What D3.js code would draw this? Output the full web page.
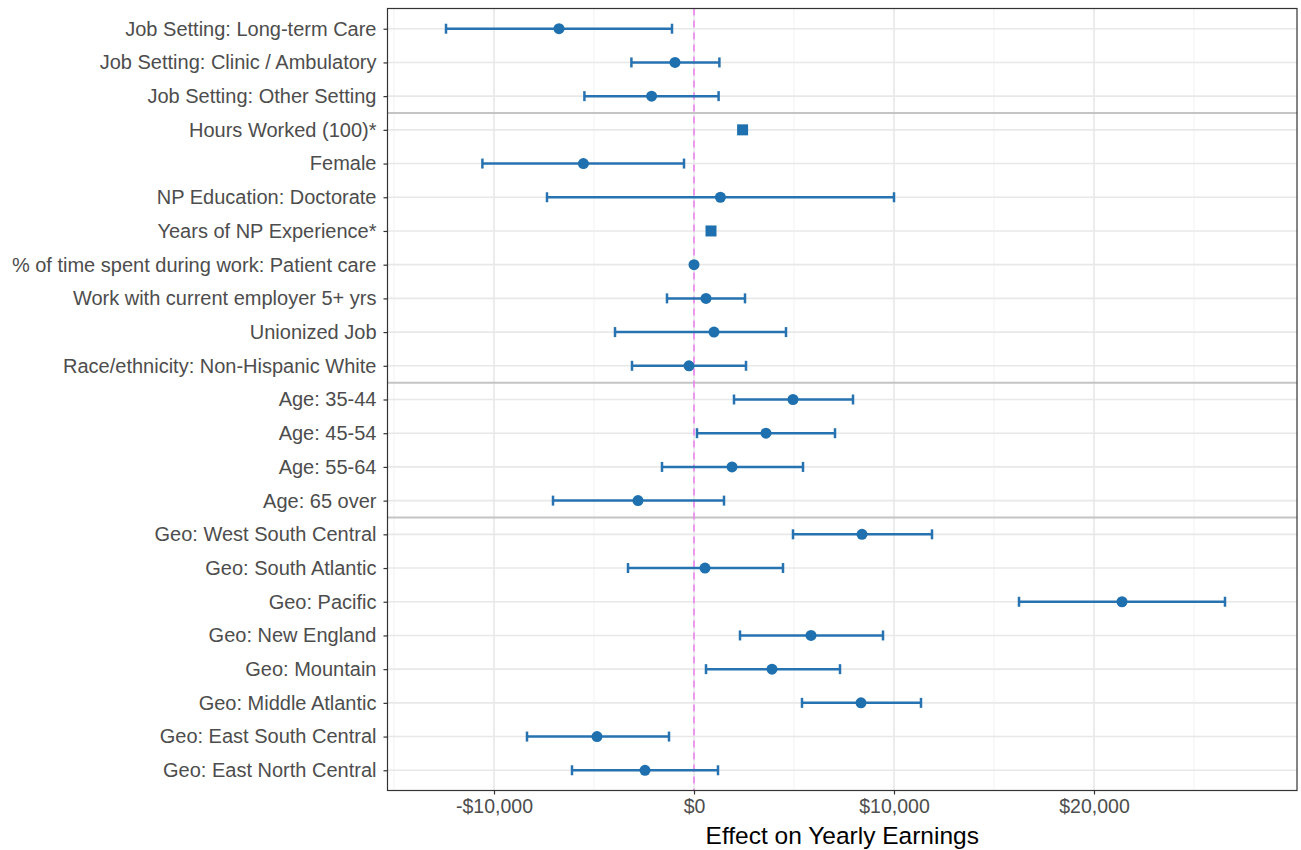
<!DOCTYPE html>
<html>
<head>
<meta charset="utf-8">
<script src="https://cdn.jsdelivr.net/npm/d3@7"></script>
<style>
  body { margin: 0; background: #fff; }
  text { font-family: "Liberation Sans", Arial, Helvetica, sans-serif; }
</style>
</head>
<body>
<div id="chart"></div>
<script>
// 数据
const terms = [
  "Job Setting: Long-term Care",
  "Job Setting: Clinic / Ambulatory",
  "Job Setting: Other Setting",
  "Hours Worked (100)*",
  "Female",
  "NP Education: Doctorate",
  "Years of NP Experience*",
  "% of time spent during work: Patient care",
  "Work with current employer 5+ yrs",
  "Unionized Job",
  "Race/ethnicity: Non-Hispanic White",
  "Age: 35-44",
  "Age: 45-54",
  "Age: 55-64",
  "Age: 65 over",
  "Geo: West South Central",
  "Geo: South Atlantic",
  "Geo: Pacific",
  "Geo: New England",
  "Geo: Mountain",
  "Geo: Middle Atlantic",
  "Geo: East South Central",
  "Geo: East North Central"
];
const estimate = [-6750, -950, -2120, 2430, -5530, 1320, 850, 0, 600, 1000, -250,
  4950, 3600, 1900, -2800, 8400, 550, 21400, 5850, 3900, 8350, -4850, -2450];
const ciLow = [-12400, -3130, -5480, null, -10580, -7350, null, null, -1350, -3950, -3100,
  2000, 150, -1600, -7050, 4950, -3300, 16250, 2300, 600, 5400, -8350, -6100];
const ciHigh = [-1100, 1270, 1230, null, -500, 10000, null, null, 2550, 4600, 2600,
  7950, 7050, 5450, 1500, 11900, 4450, 26550, 9450, 7300, 11350, -1250, 1200];
// 方形点 = 连续变量
const isSquare = [false, false, false, true, false, false, true, false, false, false, false,
  false, false, false, false, false, false, false, false, false, false, false, false];
// 分组分隔线（在这些行之后）
const groupBreaks = [2, 10, 14];
const xTicks = [-10000, 0, 10000, 20000];
const xMinor = [-15000, -5000, 5000, 15000, 25000];

const width = 1301, height = 850;
const margin = { left: 387.5, right: 4, top: 8.5, bottom: 59.5 };
const pw = width - margin.left - margin.right;
const ph = height - margin.top - margin.bottom;

const svg = d3.select("#chart").append("svg")
  .attr("width", width).attr("height", height);

const x = d3.scaleLinear().domain([-15325, 30150]).range([0, pw]);
const y = d3.scalePoint().domain(terms).range([0, ph]).padding(0.6);
const step = y.step();

const g = svg.append("g").attr("transform", `translate(${margin.left},${margin.top})`);

// 网格
g.selectAll(".minor").data(xMinor).enter().append("line")
  .attr("x1", d => x(d)).attr("x2", d => x(d))
  .attr("y1", 0).attr("y2", ph)
  .attr("stroke", "#f2f2f2").attr("stroke-width", 1);
g.selectAll(".major").data(xTicks).enter().append("line")
  .attr("x1", d => x(d)).attr("x2", d => x(d))
  .attr("y1", 0).attr("y2", ph)
  .attr("stroke", "#e8e8e8").attr("stroke-width", 1.6);
g.selectAll(".hgrid").data(terms).enter().append("line")
  .attr("x1", 0).attr("x2", pw)
  .attr("y1", d => y(d)).attr("y2", d => y(d))
  .attr("stroke", "#e8e8e8").attr("stroke-width", 1.6);

// 分隔线
g.selectAll(".sep").data(groupBreaks).enter().append("line")
  .attr("x1", 0).attr("x2", pw)
  .attr("y1", d => y(terms[d]) + step / 2).attr("y2", d => y(terms[d]) + step / 2)
  .attr("stroke", "#c4c4c4").attr("stroke-width", 2);

// 零线
g.append("line")
  .attr("x1", x(0)).attr("x2", x(0)).attr("y1", 0).attr("y2", ph)
  .attr("stroke", "#ee82ee").attr("stroke-width", 1.6)
  .attr("stroke-dasharray", "7,5");

const rows = terms.map((t, i) => ({ term: t, est: estimate[i], lo: ciLow[i], hi: ciHigh[i], sq: isSquare[i] }));
const blue = "#1f70ae";

// 误差线
const ci = rows.filter(d => d.lo !== null);
const eb = g.append("g").attr("stroke", "#2773b1").attr("stroke-width", 2.5);
eb.selectAll(".bar").data(ci).enter().append("line")
  .attr("x1", d => x(d.lo)).attr("x2", d => x(d.hi))
  .attr("y1", d => y(d.term)).attr("y2", d => y(d.term));
["lo", "hi"].forEach(k => {
  eb.selectAll(".cap-" + k).data(ci).enter().append("line")
    .attr("x1", d => x(d[k])).attr("x2", d => x(d[k]))
    .attr("y1", d => y(d.term) - 5).attr("y2", d => y(d.term) + 5);
});

// 点
g.selectAll(".pt").data(rows.filter(d => !d.sq)).enter().append("circle")
  .attr("cx", d => x(d.est)).attr("cy", d => y(d.term)).attr("r", 5.5)
  .attr("fill", blue);
g.selectAll(".sq").data(rows.filter(d => d.sq)).enter().append("rect")
  .attr("x", d => x(d.est) - 5.5).attr("y", d => y(d.term) - 5.5)
  .attr("width", 11).attr("height", 11).attr("fill", blue);

// 边框
g.append("rect").attr("width", pw).attr("height", ph)
  .attr("fill", "none").attr("stroke", "#333").attr("stroke-width", 1.2);

// 坐标轴
const fmt = d => (d < 0 ? "-$" : "$") + d3.format(",")(Math.abs(d));
const xAxis = g.append("g").attr("transform", `translate(0,${ph})`)
  .call(d3.axisBottom(x).tickValues(xTicks).tickFormat(fmt).tickSize(4).tickPadding(5));
xAxis.select(".domain").remove();
xAxis.selectAll("line").attr("stroke", "#333").attr("stroke-width", 1.2);
xAxis.selectAll("text").attr("fill", "#4d4d4d").attr("font-size", 19.5);

const yAxis = g.append("g")
  .call(d3.axisLeft(y).tickSize(4).tickPadding(7));
yAxis.select(".domain").remove();
yAxis.selectAll("line").attr("stroke", "#333").attr("stroke-width", 1.2);
yAxis.selectAll("text").attr("fill", "#4d4d4d").attr("font-size", 20);

svg.append("text")
  .attr("x", margin.left + pw / 2).attr("y", height - 6)
  .attr("text-anchor", "middle").attr("font-size", 24.5).attr("fill", "#000")
  .text("Effect on Yearly Earnings");
</script>
</body>
</html>
